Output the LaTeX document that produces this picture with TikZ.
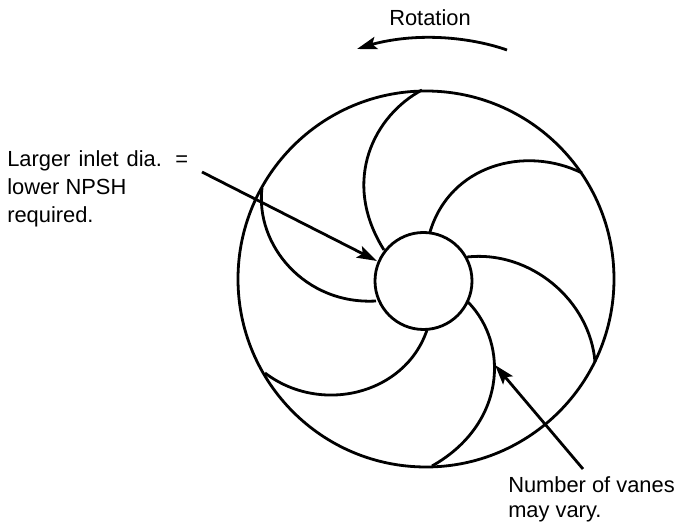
\documentclass[tikz,border=0pt]{standalone}
\usepackage{fontspec}
\setmainfont{Liberation Sans}
\usetikzlibrary{arrows.meta,bending}
\tikzset{
  rim/.style={line width=2.1pt},
  vane/.style={line width=2.1pt},
  leader/.style={line width=2.1pt,-{Stealth[length=15pt,width=9.5pt,inset=3pt]}},
  lbl/.style={inner sep=0pt,anchor=north west,align=left,font=\fontsize{16.4pt}{21pt}\selectfont}
}
\begin{document}
\begin{tikzpicture}[x=0.75pt,y=-0.75pt]
\useasboundingbox (0,0) rectangle (676,523);
\draw[rim] (426,279) circle[radius=188];
\draw[rim] (423.5,281) circle[radius=48.5];
% vanes
\draw[vane] (422,90) .. controls (375,115) and (340,180) .. (384,250);
\draw[vane] (262,188) .. controls (255,245) and (305,305) .. (376,301);
\draw[vane] (582,173) .. controls (525,145) and (450,165) .. (430,232);
\draw[vane] (467,257) .. controls (530,250) and (590,300) .. (595,362);
\draw[vane] (468,302) .. controls (510,345) and (505,425) .. (432,466);
\draw[vane] (427,330) .. controls (405,395) and (320,415) .. (265,373);
% labels
\node[lbl] (rotlabel) at (389,9) {Rotation};
\node[lbl] (inletlabel) at (7,150) {Larger\hspace{1.5pt} inlet\hspace{1.5pt} dia.\hspace{4pt} =\\lower NPSH\\required.};
\node[lbl,font=\fontsize{16.4pt}{19pt}\selectfont] (vaneslabel) at (508,476) {Number of vanes\\may vary.};
% arrows
\coordinate (rotstart) at (507,50);
\coordinate (rottip) at (357,49);
\coordinate (inletstart) at (202,172);
\coordinate (inlettip) at (377,261);
\coordinate (vanesstart) at (583,469);
\coordinate (vanestip) at (495,365);
\draw[leader] (rotstart) .. controls (470,37) and (410,30) .. (rottip);
\draw[leader] (inletstart) -- (inlettip);
\draw[leader] (vanesstart) -- (vanestip);
\end{tikzpicture}
\end{document}
